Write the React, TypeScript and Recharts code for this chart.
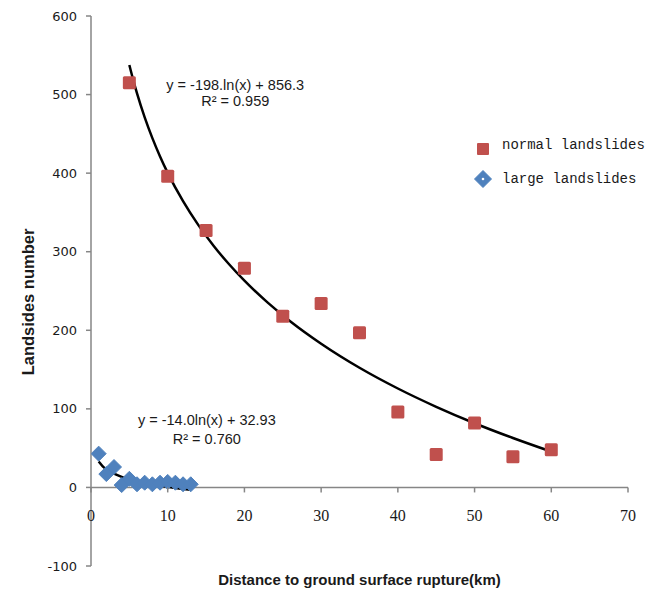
import React from 'react';
import {
  ComposedChart,
  Scatter,
  Line,
  XAxis,
  YAxis,
  ReferenceLine,
  ReferenceDot,
  Legend,
} from 'recharts';

// ---------- data ----------
const normalDistance = [5, 10, 15, 20, 25, 30, 35, 40, 45, 50, 55, 60];
const normalCount = [515, 396, 327, 279, 218, 234, 197, 96, 42, 82, 39, 48];

const largeDistance = [1, 2, 3, 4, 5, 6, 7, 8, 9, 10, 11, 12, 13];
const largeCount = [43, 17, 26, 3, 11, 4, 6, 4, 6, 7, 6, 4, 4];

// logarithmic trendlines as drawn in the chart
const normalTrendDistance = [5, 5.5, 6, 7, 8, 9, 10, 12, 14, 16, 18, 20, 23, 26, 30, 35, 40, 45, 50, 55, 60];
const normalTrendCount = [537.6, 518.8, 501.5, 471.0, 444.6, 421.3, 400.4, 364.3, 333.8, 307.3, 284.0, 263.1, 235.5, 211.2, 182.9, 152.3, 125.9, 102.6, 81.7, 62.9, 45.6];

const largeTrendDistance = [1, 1.5, 2, 2.5, 3, 4, 5, 6, 7, 8, 9, 10, 11, 12, 13];
const largeTrendCount = [32.93, 27.25, 23.23, 20.1, 17.55, 13.52, 10.4, 7.85, 5.69, 3.82, 2.17, 0.69, -0.64, -1.86, -2.98];

const xTicks = [0, 10, 20, 30, 40, 50, 60, 70];
const yTicks = [-100, 0, 100, 200, 300, 400, 500, 600];

const seriesNames = ['normal landslides', 'large landslides'];
const normalEquation = ['y = -198.ln(x) + 856.3', 'R² = 0.959'];
const largeEquation = ['y = -14.0ln(x) + 32.93', 'R² = 0.760'];
const xTitle = 'Distance to ground surface rupture(km)';
const yTitle = 'Landsides number';

// ---------- layout / style ----------
const W = 658;
const H = 590;
const X_AXIS_H = 24;
const MARGIN = { top: 16, right: 30, bottom: 0, left: 0 };
const PLOT_H = H - MARGIN.top - MARGIN.bottom - X_AXIS_H;
const Y_MIN = -100;
const Y_MAX = 600;
const AXIS_COLOR = '#868686';
const RED = '#C0504D';
const BLUE = '#4F81BD';
const TEXT = '#1a1a1a';

const zip = (xs: number[], ys: number[]) => xs.map((x, i) => ({ x, y: ys[i] }));
const normalData = zip(normalDistance, normalCount);
const largeData = zip(largeDistance, largeCount);
const normalTrend = zip(normalTrendDistance, normalTrendCount);
const largeTrend = zip(largeTrendDistance, largeTrendCount);

const SquareShape = (props: any) => {
  const { cx, cy } = props;
  if (cx == null || cy == null) return null;
  return <rect x={cx - 6.5} y={cy - 6.5} width={13} height={13} rx={1.5} fill={RED} />;
};

const DiamondShape = (props: any) => {
  const { cx, cy } = props;
  if (cx == null || cy == null) return null;
  const r = 7.5;
  return (
    <polygon
      points={`${cx},${cy - r} ${cx + r},${cy} ${cx},${cy + r} ${cx - r},${cy}`}
      fill={BLUE}
      stroke={BLUE}
      strokeWidth={1}
      strokeLinejoin="round"
    />
  );
};

const XTick = (props: any) => {
  const { x, y, payload } = props;
  const zeroY = y - (PLOT_H * (0 - Y_MIN)) / (Y_MAX - Y_MIN);
  return (
    <g>
      <line x1={x} x2={x} y1={zeroY} y2={zeroY + 5} stroke={AXIS_COLOR} strokeWidth={1.5} />
      <text
        x={x}
        y={zeroY + 34}
        textAnchor="middle"
        fontFamily="'Liberation Serif', serif"
        fontSize={16}
        fill={TEXT}
      >
        {payload.value}
      </text>
    </g>
  );
};

const XTitle = (props: any) => {
  const { viewBox } = props;
  return (
    <text
      x={viewBox.x + viewBox.width / 2}
      y={viewBox.y + 19}
      textAnchor="middle"
      fontFamily="'Liberation Sans', Arial, sans-serif"
      fontWeight="bold"
      fontSize={15}
      fill={TEXT}
    >
      {xTitle}
    </text>
  );
};

const YTitle = (props: any) => {
  const { viewBox } = props;
  const x = viewBox.x + 34;
  const y = viewBox.y + viewBox.height / 2 + 11;
  return (
    <text
      x={x}
      y={y}
      transform={`rotate(-90 ${x} ${y})`}
      textAnchor="middle"
      fontFamily="'Liberation Sans', Arial, sans-serif"
      fontWeight="bold"
      fontSize={16.5}
      fill={TEXT}
    >
      {yTitle}
    </text>
  );
};

const Anno = (props: any) => {
  const { viewBox, text } = props;
  const cx = viewBox.x + (viewBox.width || 0) / 2;
  const cy = viewBox.y + (viewBox.height || 0) / 2;
  return (
    <text
      x={cx}
      y={cy}
      dy="0.36em"
      textAnchor="middle"
      fontFamily="'Liberation Sans', Arial, sans-serif"
      fontSize={14.5}
      fill={TEXT}
    >
      {text}
    </text>
  );
};

const LegendContent = () => (
  <div style={{ position: 'relative', width: 184, height: 60 }}>
    <div style={{ position: 'absolute', left: 0, top: 0, height: 22, display: 'flex', alignItems: 'center' }}>
      <svg width={18} height={18} style={{ marginTop: 8 }}>
        <rect x={3} y={3} width={12} height={12} rx={1} fill={RED} />
      </svg>
      <span
        style={{
          marginLeft: 10,
          fontFamily: "'Liberation Mono', monospace",
          fontSize: 14,
          color: TEXT,
          whiteSpace: 'nowrap',
        }}
      >
        {seriesNames[0]}
      </span>
    </div>
    <div style={{ position: 'absolute', left: 0, top: 34, height: 22, display: 'flex', alignItems: 'center' }}>
      <svg width={18} height={18}>
        <polygon points="9,0.5 17.5,9 9,17.5 0.5,9" fill={BLUE} stroke={BLUE} strokeLinejoin="round" />
        <circle cx={9} cy={9} r={1.3} fill="#fff" />
      </svg>
      <span
        style={{
          marginLeft: 10,
          fontFamily: "'Liberation Mono', monospace",
          fontSize: 14,
          color: TEXT,
          whiteSpace: 'nowrap',
        }}
      >
        {seriesNames[1]}
      </span>
    </div>
  </div>
);

export default function App() {
  return (
    <div style={{ width: W, height: H, background: '#fff' }}>
      <style>{`body{margin:0;background:#fff;}`}</style>
      <ComposedChart width={W} height={H} margin={MARGIN}>
        <XAxis
          type="number"
          dataKey="x"
          domain={[0, 70]}
          ticks={xTicks}
          interval={0}
          height={X_AXIS_H}
          axisLine={false}
          tickLine={false}
          tickSize={0}
          tickMargin={0}
          tick={<XTick />}
          allowDataOverflow
          label={{ content: <XTitle /> } as any}
        />
        <YAxis
          type="number"
          dataKey="y"
          domain={[Y_MIN, Y_MAX]}
          ticks={yTicks}
          interval={0}
          width={91}
          axisLine={{ stroke: AXIS_COLOR, strokeWidth: 1.5 }}
          tickLine={{ stroke: AXIS_COLOR, strokeWidth: 1.5 }}
          tickSize={5}
          tickMargin={9}
          tick={{ fontFamily: "'DejaVu Sans', sans-serif", fontSize: 13, fill: TEXT }}
          allowDataOverflow
          label={{ content: <YTitle /> } as any}
        />
        <ReferenceLine y={0} stroke={AXIS_COLOR} strokeWidth={1.5} />
        <Scatter
          name={seriesNames[0]}
          data={normalData}
          dataKey="y"
          fill={RED}
          shape={<SquareShape />}
          isAnimationActive={false}
        />
        <Scatter
          name={seriesNames[1]}
          data={largeData}
          dataKey="y"
          fill={BLUE}
          shape={<DiamondShape />}
          isAnimationActive={false}
        />
        <Line
          data={normalTrend}
          dataKey="y"
          type="monotone"
          stroke="#000"
          strokeWidth={2.5}
          dot={false}
          activeDot={false}
          legendType="none"
          isAnimationActive={false}
        />
        <Line
          data={largeTrend}
          dataKey="y"
          type="monotone"
          stroke="#000"
          strokeWidth={2.5}
          dot={false}
          activeDot={false}
          legendType="none"
          isAnimationActive={false}
        />
        <ReferenceDot x={18.8} y={513} r={0} fill="none" stroke="none" label={<Anno text={normalEquation[0]} />} />
        <ReferenceDot x={18.8} y={492} r={0} fill="none" stroke="none" label={<Anno text={normalEquation[1]} />} />
        <ReferenceDot x={15.1} y={85.8} r={0} fill="none" stroke="none" label={<Anno text={largeEquation[0]} />} />
        <ReferenceDot x={15.1} y={61.6} r={0} fill="none" stroke="none" label={<Anno text={largeEquation[1]} />} />
        <Legend
          layout="horizontal"
          verticalAlign="middle"
          align="center"
          content={<LegendContent />}
          wrapperStyle={{ position: 'absolute', left: 474, top: 134, width: 184, height: 60, right: 'auto', bottom: 'auto' }}
        />
      </ComposedChart>
    </div>
  );
}
